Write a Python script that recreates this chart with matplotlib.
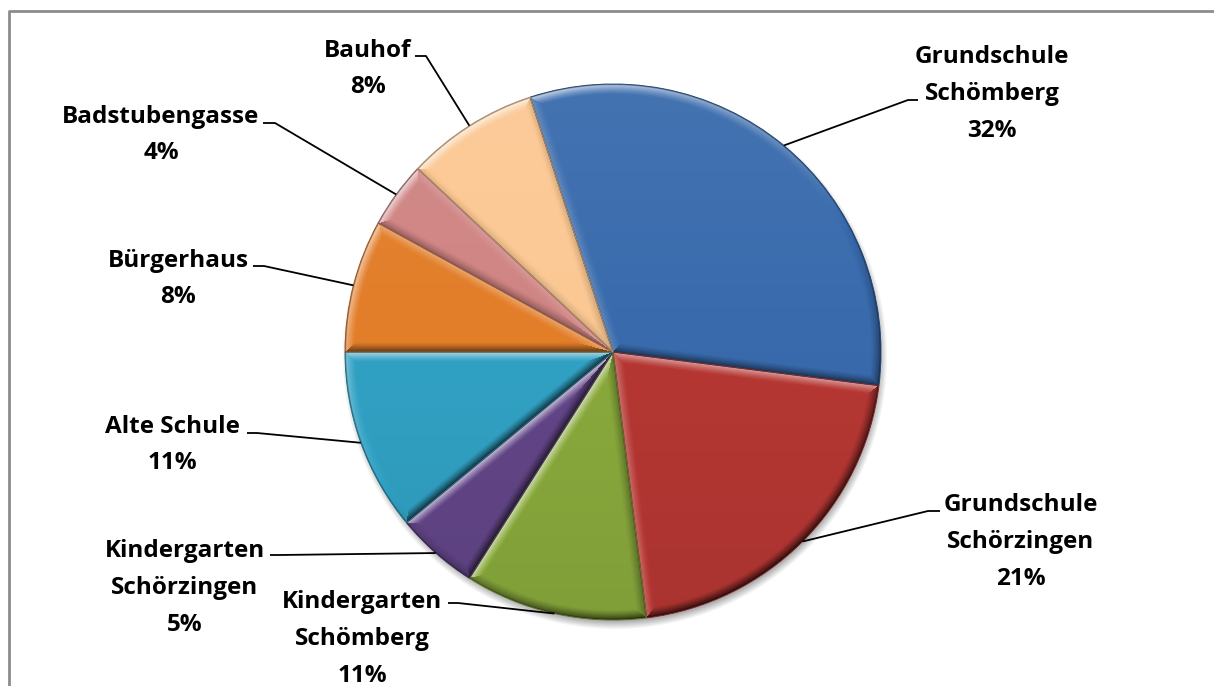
import numpy as np
import matplotlib
matplotlib.use("Agg")
import matplotlib.pyplot as plt
from matplotlib.colors import to_rgb
from matplotlib.patches import Wedge

# Anteile je Gebäude (Prozent), im Uhrzeigersinn ab Grundschule Schömberg
labels = ["Grundschule\nSchömberg", "Grundschule\nSchörzingen", "Kindergarten\nSchömberg",
          "Kindergarten\nSchörzingen", "Alte Schule", "Bürgerhaus", "Badstubengasse", "Bauhof"]
values = [32, 21, 11, 5, 11, 8, 4, 8]
colors = ["#386AAC", "#B53733", "#89A93C", "#624587", "#31A1C3", "#E27D28", "#CF8483", "#FBC893"]

# label block centres and leader elbows in pixel coordinates (y from top)
label_pos = [(992, 94), (1021, 542), (362, 639), (185, 588), (172, 445), (178, 279), (161, 135), (368, 69)]
elbows = [(918, 908, 100), (940, 928, 511), (448, 458, 603), (270, 280, 555),
          (247, 257, 433), (253, 264, 266), (263, 275, 123), (415, 426, 56)]

W, H = 1214, 686
fig = plt.figure(figsize=(W / 100, H / 100), dpi=100)
ax = fig.add_axes([0, 0, 1, 1])

cx, cy, R = 613, H - 352, 268

wedges, _ = ax.pie(values, colors=colors, startangle=108, counterclock=False,
                   radius=R, center=(cx, cy), wedgeprops=dict(linewidth=0))

# soft drop shadow under the pie
n = 2 * R + 40
sx, sy = np.meshgrid(np.linspace(cx - R - 20, cx + R + 20, n), np.linspace(cy - R - 20, cy + R + 20, n))
dist = np.hypot(sx - (cx + 2), sy - (cy - 5))
salpha = 0.45 * np.clip((R + 5 - dist) / 12, 0, 1)
shadow = np.zeros((n, n, 4))
shadow[..., 3] = salpha
ax.imshow(shadow, extent=(cx - R - 20, cx + R + 20, cy - R - 20, cy + R + 20),
          origin="lower", zorder=0.5, interpolation="bilinear")

# bevel shading per slice
N = 2 * R
gx, gy = np.meshgrid(np.linspace(cx - R, cx + R, N), np.linspace(cy - R, cy + R, N))
dx, dy = gx - cx, gy - cy
rr = np.hypot(dx, dy) + 1e-9
light = np.array([-0.55, 0.83])
bw = 10.0

for w, col in zip(wedges, colors):
    t1, t2 = np.radians(w.theta1), np.radians(w.theta2)
    u1 = np.array([np.cos(t1), np.sin(t1)])
    u2 = np.array([np.cos(t2), np.sin(t2)])
    d_arc = R - rr
    d1 = u1[0] * dy - u1[1] * dx
    d2 = u2[1] * dx - u2[0] * dy
    n_arc = (dx / rr) * light[0] + (dy / rr) * light[1]
    n1 = u1[1] * light[0] - u1[0] * light[1]
    n2 = -u2[1] * light[0] + u2[0] * light[1]
    d = np.stack([d_arc, np.abs(d1), np.abs(d2)])
    nl = np.stack([n_arc, np.full_like(rr, n1), np.full_like(rr, n2)])
    idx = np.argmin(d, axis=0)
    dmin = np.take_along_axis(d, idx[None], 0)[0]
    lit = np.take_along_axis(nl, idx[None], 0)[0]
    bev = np.clip(1 - dmin / bw, 0, 1) ** 1.3
    s = bev * lit * 0.7 + 0.06 * dy / R
    base = np.array(to_rgb(col))
    img = np.where(s[..., None] > 0, base + (1 - base) * s[..., None], base * (1 + s[..., None]))
    edge_dark = np.clip(1 - dmin / 1.2, 0, 1)[..., None] * 0.35
    img = np.clip(img * (1 - edge_dark), 0, 1)
    im = ax.imshow(img, extent=(cx - R, cx + R, cy - R, cy + R), origin="lower",
                   zorder=2, interpolation="bilinear")
    im.set_clip_path(w)
    w.set_zorder(1)
    ax.add_patch(Wedge((cx, cy), R, w.theta1, w.theta2, fill=False,
                       edgecolor=tuple(np.array(to_rgb(col)) * 0.7), linewidth=0.7, zorder=3))

# labels with leader lines to the middle of each slice
for w, lab, v, (lx, ly), (tx, ex, ey) in zip(wedges, labels, values, label_pos, elbows):
    mid = np.radians((w.theta1 + w.theta2) / 2)
    px, py = cx + R * np.cos(mid), cy + R * np.sin(mid)
    ax.plot([tx, ex, px], [H - ey, H - ey, py], color="black", lw=1.3, zorder=4,
            solid_capstyle="butt")
    ax.text(lx, H - ly, f"{lab}\n{v}%", ha="center", va="center", fontsize=17.5,
            fontweight="bold", family=["Open Sans", "DejaVu Sans"], linespacing=1.7, zorder=5)

# chart frame
ax.plot([9, 9, W + 5], [-5, H - 11, H - 11], color="#8C8C8C", lw=2, zorder=6)

ax.set_xlim(0, W)
ax.set_ylim(0, H)
ax.set_aspect("auto")
ax.axis("off")
fig.savefig("out.png", dpi=100)
